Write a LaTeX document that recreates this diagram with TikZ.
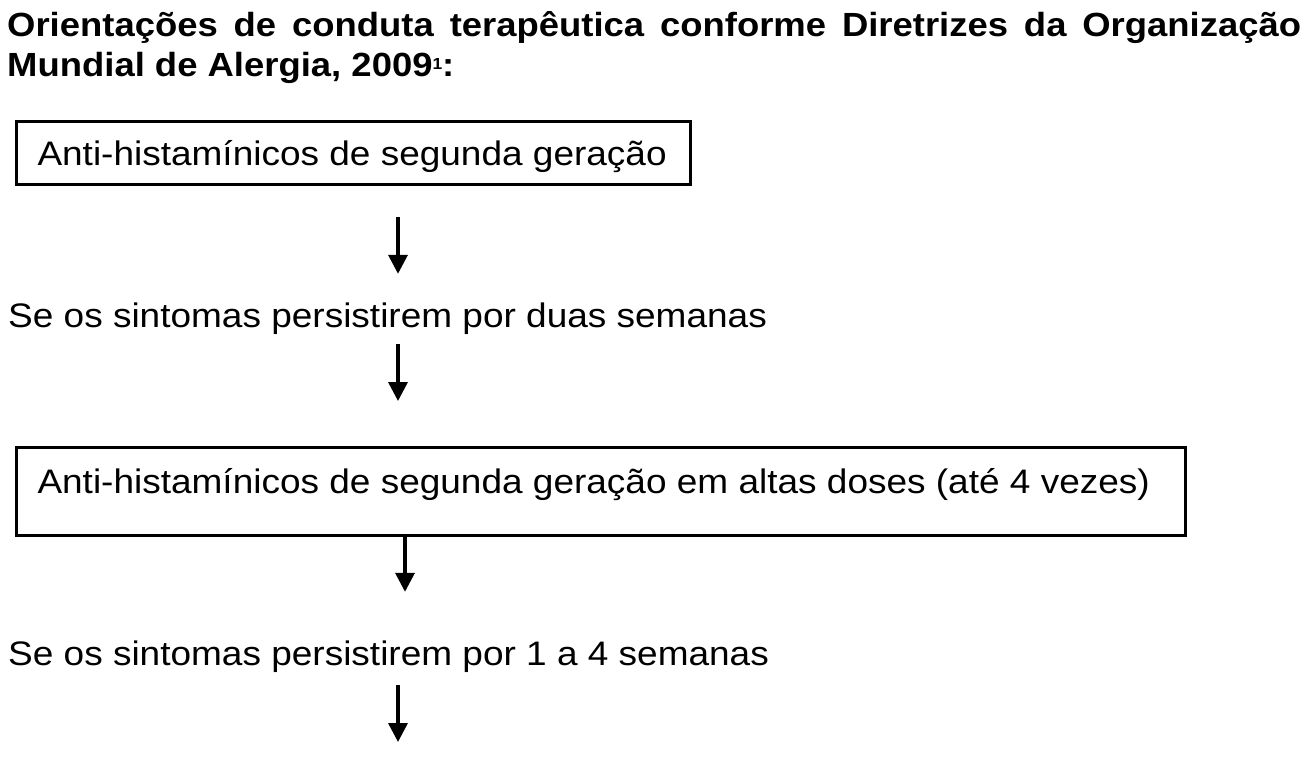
\documentclass[tikz,border=0pt]{standalone}
\usepackage{fontspec}
\setmainfont[FakeStretch=1.088]{Liberation Sans}
\usepackage{tikz}
\usetikzlibrary{positioning}
\usetikzlibrary{calc}
\usetikzlibrary{arrows.meta}

\tikzset{
	stepBox/.style={
		draw,
		line width=3pt,
		anchor=north west,
		inner xsep=21pt,
		inner ysep=0pt,
		align=flush left,
		font=\fontsize{34}{40}\selectfont
	},
	condText/.style={
		anchor=base west,
		inner sep=0pt,
		text height=28pt,
		text depth=8pt,
		font=\fontsize{34}{40}\selectfont
	},
	flowArrow/.style={
		line width=3.5pt,
		-{Triangle[width=19pt,length=19pt]}
	}
}

\begin{document}
\begin{tikzpicture}[x=1pt,y=-1pt]
\useasboundingbox (0,0) rectangle (1309,763);

\node[
	anchor=north west,
	inner sep=0pt,
	text width=1294pt,
	align=justify,
	font=\bfseries\fontsize{33.5}{40}\selectfont
] (title) at (7,11) {Orientações de conduta terapêutica conforme Diretrizes da Organização\linebreak
Mundial de Alergia, 2009\raisebox{7pt}{\fontsize{16}{16}\selectfont 1}:};

\node[
	stepBox,
	text width=632pt,
	text height=43.5pt,
	text depth=19.5pt
] (secondGen) at (15,120) {Anti-histamínicos de segunda geração};

\node[condText] (twoWeeks) at (8,327) {Se os sintomas persistirem por duas semanas};

\node[
	stepBox,
	text width=1127pt,
	text height=45.5pt,
	text depth=42.5pt
] (highDose) at (15,446) {Anti-histamínicos de segunda geração em altas doses (até 4 vezes)};

\node[condText] (fourWeeks) at (8,665) {Se os sintomas persistirem por 1 a 4 semanas};

\coordinate (axis) at (398,0);
\coordinate (axisB) at (405,0);
\coordinate (next) at (398,742);

% ---

\draw[flowArrow, shorten <=31pt, shorten >=25pt] (secondGen.south -| axis) -- (twoWeeks.north -| axis);

\draw[flowArrow, shorten <=9pt, shorten >=45pt] (twoWeeks.south -| axis) -- (highDose.north -| axis);

\draw[flowArrow, shorten >=45pt] (highDose.south -| axisB) -- (fourWeeks.north -| axisB);

\draw[flowArrow, shorten <=12pt] (fourWeeks.south -| axis) -- (next);

\end{tikzpicture}
\end{document}
